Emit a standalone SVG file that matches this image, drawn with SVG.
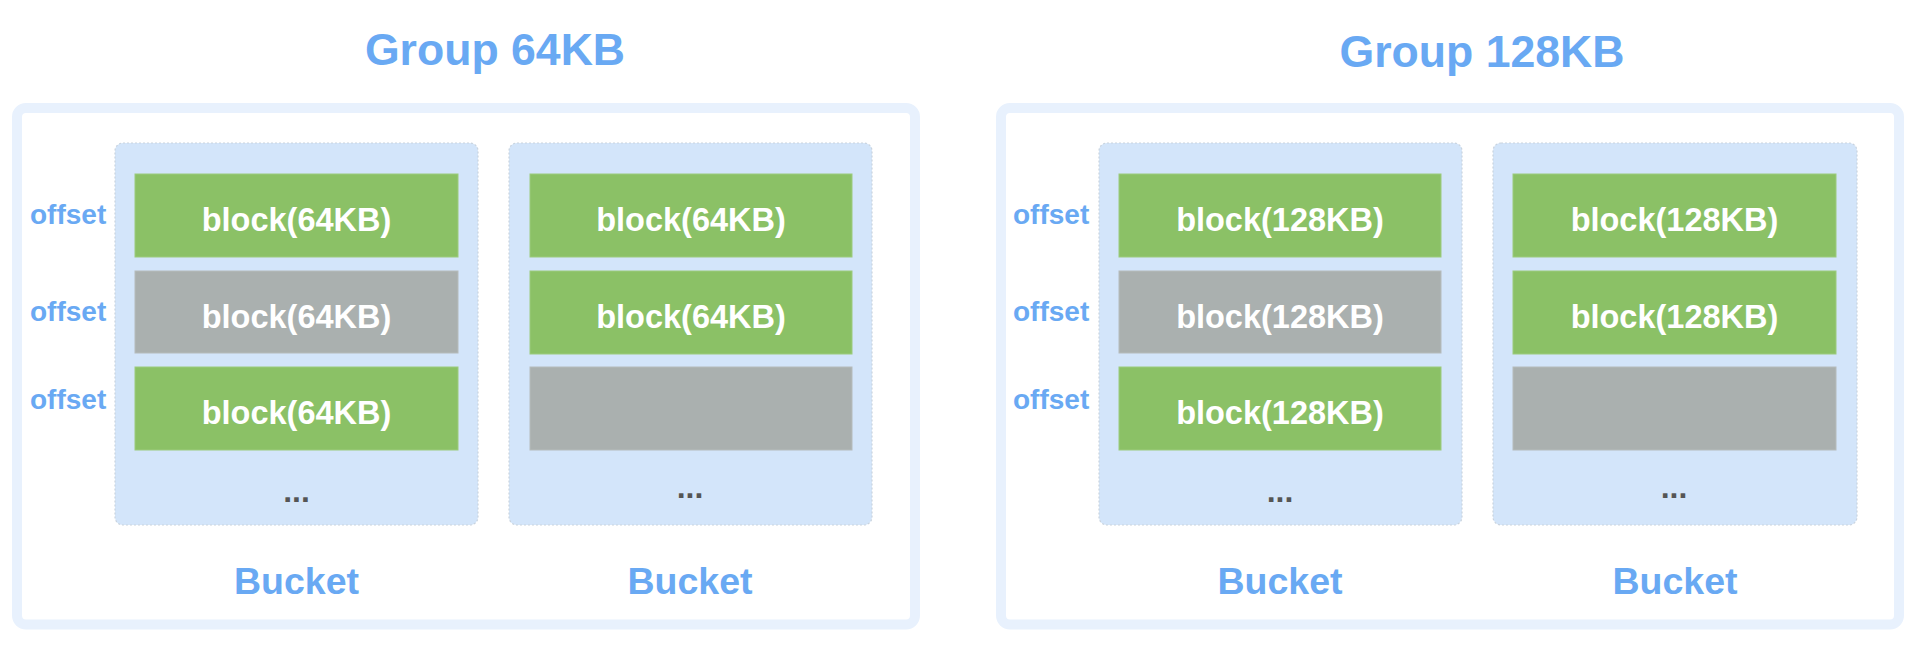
<svg xmlns="http://www.w3.org/2000/svg" width="1920" height="662" viewBox="0 0 1920 662">
<style>
.group{fill:#ffffff;stroke:#E8F1FD;stroke-width:10}
.bucket{fill:#D3E5FA;stroke:#C9D3DE;stroke-width:1.2;stroke-dasharray:2 2}
.g{fill:#8BC166;stroke:#9CCB7C;stroke-width:1}
.x{fill:#AAB0AF;stroke:#B6BCBB;stroke-width:1}
text{font-family:"Liberation Sans",Arial,sans-serif;font-weight:bold}
.title{font-size:44.6px;fill:#69A9F3;text-anchor:middle}
.off{font-size:28px;fill:#69A9F3}
.bt{font-size:32.5px;fill:#ffffff;text-anchor:middle}
.bl{font-size:37.5px;fill:#69A9F3;text-anchor:middle}
.dots{font-size:32px;fill:#555555;text-anchor:middle}
</style>
<rect width="1920" height="662" fill="#ffffff"/>

<g id="group64">
<text class="title" x="495" y="65">Group 64KB</text>
<rect class="group" x="17" y="108" width="898" height="516.5" rx="9"/>
<text class="off" x="30" y="224">offset</text>
<text class="off" x="30" y="321">offset</text>
<text class="off" x="30" y="409">offset</text>
</g>

<g id="bucket1">
<rect class="bucket" x="115" y="143" width="363" height="382" rx="8"/>
<rect class="g" x="135" y="174" width="323" height="83"/>
<text class="bt" x="296.5" y="230.5">block(64KB)</text>
<rect class="x" x="135" y="271" width="323" height="82"/>
<text class="bt" x="296.5" y="327.5">block(64KB)</text>
<rect class="g" x="135" y="367" width="323" height="83"/>
<text class="bt" x="296.5" y="423.5">block(64KB)</text>
<text class="dots" x="296.5" y="502">...</text>
<text class="bl" x="296.5" y="594">Bucket</text>
</g>

<g id="bucket2">
<rect class="bucket" x="509" y="143" width="363" height="382" rx="8"/>
<rect class="g" x="530" y="174" width="322" height="83"/>
<text class="bt" x="691" y="230.5">block(64KB)</text>
<rect class="g" x="530" y="271" width="322" height="83"/>
<text class="bt" x="691" y="327.5">block(64KB)</text>
<rect class="x" x="530" y="367" width="322" height="83"/>
<text class="dots" x="690" y="498">...</text>
<text class="bl" x="690" y="594">Bucket</text>
</g>

<g id="group128">
<text class="title" x="1482" y="67">Group 128KB</text>
<rect class="group" x="1001" y="108" width="898" height="516.5" rx="9"/>
<text class="off" x="1013" y="224">offset</text>
<text class="off" x="1013" y="321">offset</text>
<text class="off" x="1013" y="409">offset</text>
</g>

<g id="bucket3">
<rect class="bucket" x="1099" y="143" width="363" height="382" rx="8"/>
<rect class="g" x="1119" y="174" width="322" height="83"/>
<text class="bt" x="1280" y="230.5">block(128KB)</text>
<rect class="x" x="1119" y="271" width="322" height="82"/>
<text class="bt" x="1280" y="327.5">block(128KB)</text>
<rect class="g" x="1119" y="367" width="322" height="83"/>
<text class="bt" x="1280" y="423.5">block(128KB)</text>
<text class="dots" x="1280" y="502">...</text>
<text class="bl" x="1280" y="594">Bucket</text>
</g>

<g id="bucket4">
<rect class="bucket" x="1493" y="143" width="364" height="382" rx="8"/>
<rect class="g" x="1513" y="174" width="323" height="83"/>
<text class="bt" x="1674.5" y="230.5">block(128KB)</text>
<rect class="g" x="1513" y="271" width="323" height="83"/>
<text class="bt" x="1674.5" y="327.5">block(128KB)</text>
<rect class="x" x="1513" y="367" width="323" height="83"/>
<text class="dots" x="1674" y="498">...</text>
<text class="bl" x="1675" y="594">Bucket</text>
</g>

<g id="connectors"></g>
</svg>
